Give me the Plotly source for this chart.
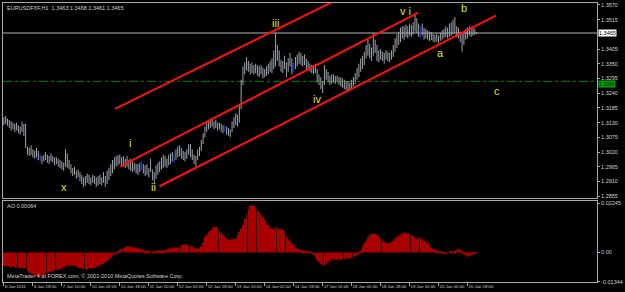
import plotly.graph_objects as go

SYMBOL_HEADER = "EURUSDFXF,H1  1.3463 1.3468 1.3461 1.3465"
AO_HEADER = "AO 0.00064"
COPYRIGHT = "MetaTrader 4 at FOREX.com, \u00a9 2001-2010 MetaQuotes Software Corp."

LOW = [
    1.3120, 1.3125, 1.3118, 1.3110, 1.3100, 1.3105, 1.3095, 1.3100, 1.3090, 1.3085,
    1.3095, 1.3080, 1.3035, 1.3010, 1.3005, 1.3010, 1.3000, 1.2995, 1.3000, 1.2990,
    1.2985, 1.2975, 1.2985, 1.2990, 1.2980, 1.2975, 1.2985, 1.2980, 1.2970, 1.2975,
    1.2965, 1.2960, 1.2955, 1.2950, 1.2965, 1.2960, 1.2955, 1.2940, 1.2930, 1.2935,
    1.2920, 1.2925, 1.2910, 1.2900, 1.2888, 1.2895, 1.2905, 1.2900, 1.2895, 1.2905,
    1.2900, 1.2890, 1.2895, 1.2900, 1.2895, 1.2905, 1.2890, 1.2900, 1.2915, 1.2930,
    1.2940, 1.2955, 1.2965, 1.2970, 1.2975, 1.2970, 1.2965, 1.2960, 1.2965, 1.2955,
    1.2950, 1.2945, 1.2950, 1.2940, 1.2935, 1.2945, 1.2950, 1.2940, 1.2930, 1.2935,
    1.2925, 1.2945, 1.2915, 1.2900, 1.2920, 1.2935, 1.2945, 1.2955, 1.2960, 1.2965,
    1.2960, 1.2970, 1.2975, 1.2985, 1.2980, 1.2990, 1.3000, 1.3005, 1.2995, 1.2990,
    1.2985, 1.2995, 1.3010, 1.3000, 1.2990, 1.2975, 1.2965, 1.2990, 1.3005, 1.3025,
    1.3050, 1.3075, 1.3095, 1.3105, 1.3110, 1.3115, 1.3105, 1.3110, 1.3100, 1.3105,
    1.3095, 1.3090, 1.3095, 1.3085, 1.3080, 1.3075, 1.3095, 1.3110, 1.3120, 1.3115,
    1.3130, 1.3180, 1.3270, 1.3310, 1.3325, 1.3320, 1.3310, 1.3315, 1.3310, 1.3315,
    1.3305, 1.3300, 1.3310, 1.3295, 1.3300, 1.3305, 1.3310, 1.3320, 1.3315, 1.3330,
    1.3340, 1.3360, 1.3340, 1.3320, 1.3315, 1.3330, 1.3300, 1.3320, 1.3340, 1.3310,
    1.3320, 1.3330, 1.3340, 1.3350, 1.3345, 1.3340, 1.3345, 1.3330, 1.3325, 1.3320,
    1.3315, 1.3310, 1.3315, 1.3280, 1.3270, 1.3255, 1.3240, 1.3270, 1.3290, 1.3280,
    1.3270, 1.3275, 1.3280, 1.3275, 1.3280, 1.3270, 1.3265, 1.3260, 1.3255, 1.3250,
    1.3245, 1.3250, 1.3255, 1.3265, 1.3275, 1.3290, 1.3300, 1.3320, 1.3330, 1.3345,
    1.3370, 1.3380, 1.3370, 1.3360, 1.3380, 1.3390, 1.3360, 1.3355, 1.3365, 1.3360,
    1.3350, 1.3365, 1.3360, 1.3355, 1.3365, 1.3375, 1.3395, 1.3410, 1.3420, 1.3430,
    1.3445, 1.3440, 1.3450, 1.3445, 1.3455, 1.3450, 1.3460, 1.3470, 1.3465, 1.3450,
    1.3445, 1.3455, 1.3440, 1.3445, 1.3440, 1.3435, 1.3438, 1.3432, 1.3430, 1.3432,
    1.3427, 1.3435, 1.3440, 1.3445, 1.3450, 1.3445, 1.3450, 1.3455, 1.3460, 1.3465,
    1.3450, 1.3445, 1.3430, 1.3395, 1.3420, 1.3440, 1.3445, 1.3455, 1.3450, 1.3455,
    1.3458, 1.3461,
]

HIGH = [
    1.3150, 1.3155, 1.3145, 1.3140, 1.3135, 1.3130, 1.3125, 1.3130, 1.3120, 1.3115,
    1.3134, 1.3125, 1.3126, 1.3040, 1.3035, 1.3045, 1.3030, 1.3025, 1.3035, 1.3025,
    1.3015, 1.3005, 1.3010, 1.3020, 1.3010, 1.3005, 1.3015, 1.3005, 1.3000, 1.3000,
    1.2995, 1.2990, 1.2985, 1.2980, 1.3030, 1.3015, 1.2990, 1.2975, 1.2960, 1.2965,
    1.2950, 1.2955, 1.2945, 1.2935, 1.2925, 1.2930, 1.2940, 1.2935, 1.2925, 1.2935,
    1.2930, 1.2925, 1.2930, 1.2935, 1.2925, 1.2945, 1.2930, 1.2950, 1.2960, 1.2975,
    1.2990, 1.3000, 1.3005, 1.3010, 1.3010, 1.3000, 1.3005, 1.2995, 1.3005, 1.2990,
    1.2995, 1.2985, 1.2980, 1.2975, 1.2975, 1.2980, 1.2985, 1.2975, 1.2970, 1.2975,
    1.2960, 1.2995, 1.2955, 1.2945, 1.2970, 1.2980, 1.2985, 1.3000, 1.3010, 1.3005,
    1.2995, 1.3010, 1.3015, 1.3020, 1.3015, 1.3030, 1.3040, 1.3045, 1.3035, 1.3025,
    1.3020, 1.3030, 1.3050, 1.3050, 1.3030, 1.3010, 1.3005, 1.3030, 1.3040, 1.3065,
    1.3090, 1.3115, 1.3130, 1.3140, 1.3145, 1.3140, 1.3135, 1.3140, 1.3130, 1.3130,
    1.3125, 1.3120, 1.3120, 1.3115, 1.3110, 1.3105, 1.3135, 1.3150, 1.3165, 1.3160,
    1.3200, 1.3290, 1.3340, 1.3355, 1.3375, 1.3360, 1.3350, 1.3355, 1.3345, 1.3350,
    1.3345, 1.3340, 1.3345, 1.3335, 1.3330, 1.3340, 1.3350, 1.3360, 1.3370, 1.3400,
    1.3465, 1.3420, 1.3400, 1.3365, 1.3360, 1.3380, 1.3355, 1.3370, 1.3390, 1.3370,
    1.3355, 1.3375, 1.3385, 1.3395, 1.3390, 1.3380, 1.3385, 1.3370, 1.3360, 1.3350,
    1.3345, 1.3345, 1.3350, 1.3330, 1.3310, 1.3300, 1.3285, 1.3345, 1.3330, 1.3320,
    1.3305, 1.3310, 1.3310, 1.3305, 1.3305, 1.3300, 1.3300, 1.3295, 1.3290, 1.3285,
    1.3285, 1.3280, 1.3290, 1.3300, 1.3315, 1.3335, 1.3350, 1.3370, 1.3380, 1.3395,
    1.3420, 1.3440, 1.3425, 1.3410, 1.3465, 1.3440, 1.3420, 1.3400, 1.3405, 1.3395,
    1.3390, 1.3400, 1.3395, 1.3390, 1.3400, 1.3420, 1.3445, 1.3460, 1.3470, 1.3485,
    1.3490, 1.3490, 1.3495, 1.3490, 1.3500, 1.3495, 1.3505, 1.3532, 1.3520, 1.3500,
    1.3490, 1.3500, 1.3485, 1.3480, 1.3475, 1.3470, 1.3468, 1.3462, 1.3458, 1.3462,
    1.3455, 1.3465, 1.3475, 1.3480, 1.3490, 1.3485, 1.3500, 1.3505, 1.3515, 1.3525,
    1.3490, 1.3485, 1.3470, 1.3462, 1.3470, 1.3480, 1.3485, 1.3490, 1.3485, 1.3490,
    1.3480, 1.3468,
]

BLUE_BARS = [20, 76, 94, 122, 160, 230]

AO = [
    -0.0063, -0.0063, -0.0059, -0.0063, -0.0068, -0.0063,
    -0.0068, -0.0068, -0.0072, -0.0072, -0.0068, -0.0072, -0.0072,
    -0.0081, -0.0090, -0.0095, -0.0099, -0.0104,
    -0.0108, -0.0108, -0.0108, -0.0104, -0.0104, -0.0099, -0.0095,
    -0.0090, -0.0086, -0.0086, -0.0081, -0.0081, -0.0077, -0.0077, -0.0072, -0.0068, -0.0063,
    -0.0059, -0.0059, -0.0059, -0.0059, -0.0063, -0.0063, -0.0068,
    -0.0072, -0.0072, -0.0077, -0.0077, -0.0077, -0.0072, -0.0072, -0.0072, -0.0068, -0.0068, -0.0063,
    -0.0059, -0.0054, -0.0050, -0.0045, -0.0041, -0.0032, -0.0023, -0.0018, -0.0014,
    -0.0005, 0.0005,
    0.0014, 0.0018, 0.0023, 0.0023, 0.0027, 0.0027, 0.0027, 0.0023, 0.0023, 0.0023, 0.0018, 0.0018,
    0.0014, 0.0014, 0.0009, 0.0009, 0.0009, 0.0005, 0.0005, 0.0005, 0.0005, 0.0009, 0.0009, 0.0009, 0.0009, 0.0009, 0.0014,
    0.0018, 0.0018, 0.0023, 0.0023, 0.0023, 0.0023, 0.0027,
    0.0032, 0.0036, 0.0036, 0.0036, 0.0032, 0.0032, 0.0027, 0.0023, 0.0018,
    0.0018, 0.0018, 0.0027, 0.0045,
    0.0072, 0.0081, 0.0090, 0.0099,
    0.0108, 0.0117, 0.0117, 0.0113,
    0.0099, 0.0090, 0.0081, 0.0072, 0.0063, 0.0059,
    0.0059, 0.0059, 0.0063, 0.0063,
    0.0077, 0.0095, 0.0108, 0.0126,
    0.0153, 0.0176, 0.0198, 0.0212,
    0.0216, 0.0212,
    0.0203, 0.0194, 0.0185, 0.0171, 0.0158, 0.0149, 0.0135, 0.0126,
    0.0113, 0.0108, 0.0108,
    0.0117, 0.0113, 0.0108, 0.0108, 0.0104,
    0.0090, 0.0077, 0.0063, 0.0054, 0.0041, 0.0032, 0.0023, 0.0018,
    0.0014, 0.0014, 0.0009, 0.0009, 0.0009, 0.0005, 0.0005,
    -0.0005, -0.0014, -0.0023, -0.0036, -0.0045, -0.0054, -0.0059, -0.0063,
    -0.0054, -0.0045, -0.0036, -0.0032, -0.0032, -0.0032, -0.0032,
    -0.0032, -0.0032, -0.0032, -0.0032, -0.0027, -0.0027, -0.0027, -0.0023, -0.0023, -0.0018, -0.0014,
    -0.0005, 0.0009,
    0.0027, 0.0041, 0.0054, 0.0068, 0.0081,
    0.0086, 0.0086, 0.0086, 0.0081,
    0.0072, 0.0063, 0.0059, 0.0050, 0.0045, 0.0041,
    0.0045, 0.0050, 0.0054, 0.0063,
    0.0072, 0.0077, 0.0081, 0.0086, 0.0090, 0.0090,
    0.0086, 0.0086, 0.0081, 0.0077, 0.0068,
    0.0063, 0.0068, 0.0068, 0.0063, 0.0054,
    0.0050, 0.0041, 0.0032, 0.0023,
    0.0018, 0.0014, 0.0009, 0.0005,
    0.0005, 0.0001, -0.0005, -0.0005, -0.0001, 0.0001, 0.0005, 0.0005, 0.0009,
    0.0014, 0.0014, 0.0014, 0.0009,
    -0.0009, -0.0014, -0.0018, -0.0018, -0.0014,
    -0.0009, -0.0005, 0.00064,
]

TIME_TICK_BARS = [0, 16, 32, 48, 64, 80, 96, 112, 128, 144, 160, 176, 192, 208, 224, 240, 256]
TIME_TICK_TEXT = ["6 Jan 2011", "6 Jan 18:00", "7 Jan 10:00", "10 Jan 02:00", "10 Jan 18:00",
                  "11 Jan 10:00", "12 Jan 02:00", "12 Jan 18:00", "13 Jan 10:00", "14 Jan 02:00",
                  "14 Jan 18:00", "17 Jan 10:00", "18 Jan 02:00", "18 Jan 18:00", "19 Jan 10:00",
                  "20 Jan 02:00", "20 Jan 18:00"]

PRICE_TICKS = [1.3570, 1.3515, 1.3405, 1.3350, 1.3295, 1.3240, 1.3185,
               1.3130, 1.3075, 1.3020, 1.2965, 1.2910, 1.2855]
AO_TICKS = [0.02245, 0.0, -0.01344]
AO_TICK_TEXT = ["0.02245", "0.00", "-0.01344"]

BID = 1.3465
LEVEL = 1.3284

CHANNEL_BARS = [[61.4, 182.6], [64.1, 228.8], [85.9, 271.7]]
CHANNEL_PRICES = [[1.3181, 1.3585], [1.2965, 1.3541], [1.2892, 1.3530]]

WAVE_TEXT = ["x", "i", "ii", "iii", "iv", "v i", "a", "b", "c"]
WAVE_BAR = [33.2, 69.6, 82.6, 150.0, 172.8, 221.7, 241.3, 253.8, 272.3]
WAVE_PRICE = [1.2888, 1.3053, 1.2888, 1.3504, 1.3218, 1.3548, 1.3390, 1.3559, 1.3247]

assert len(LOW) == len(HIGH) == len(AO)
N = len(LOW)

FONT = "Liberation Sans"
TXT = "#d0d0d0"
FRAME = "#a8a8a8"

fig = go.Figure()


def bar_segments(indices):
    xs, ys = [], []
    for i in indices:
        xs += [i, i, None]
        ys += [LOW[i], HIGH[i], None]
    return xs, ys


gx, gy = bar_segments([i for i in range(N) if i not in BLUE_BARS])
fig.add_trace(go.Scatter(x=gx, y=gy, mode="lines", line=dict(color="#9ca4ac", width=1),
                         xaxis="x2", yaxis="y", hoverinfo="skip"))
bx, by = bar_segments(BLUE_BARS)
fig.add_trace(go.Scatter(x=bx, y=by, mode="lines", line=dict(color="#2040ff", width=1),
                         xaxis="x2", yaxis="y", hoverinfo="skip"))

for cx, cy in zip(CHANNEL_BARS, CHANNEL_PRICES):
    fig.add_trace(go.Scatter(x=cx, y=cy, mode="lines", line=dict(color="#ff1010", width=2),
                             xaxis="x2", yaxis="y", hoverinfo="skip"))

fig.add_trace(go.Bar(x=list(range(N)), y=AO, width=0.4,
                     marker=dict(color="#a80000", line=dict(width=0)),
                     xaxis="x", yaxis="y2", hoverinfo="skip"))

annotations = []
for t, bx_, py in zip(WAVE_TEXT, WAVE_BAR, WAVE_PRICE):
    annotations.append(dict(x=bx_, y=py, xref="x2", yref="y", text=t, showarrow=False,
                            font=dict(family=FONT, size=11, color="#e6e600")))
annotations += [
    dict(x=0.004, y=1, xref="paper", yref="paper", xanchor="left", yanchor="top", text=SYMBOL_HEADER,
         showarrow=False, font=dict(family=FONT, size=5.5, color=TXT)),
    dict(x=0.004, y=1, xref="paper", yref="y2 domain", xanchor="left", yanchor="top", text=AO_HEADER,
         showarrow=False, font=dict(family=FONT, size=5.5, color=TXT)),
    dict(x=0.004, y=0.01, xref="paper", yref="y2 domain", xanchor="left", yanchor="bottom", text=COPYRIGHT,
         showarrow=False, font=dict(family=FONT, size=5.5, color=TXT)),
    dict(x=1, y=BID, xref="paper", yref="y", xanchor="left", yanchor="middle", xshift=1, text=f"{BID:.4f}",
         showarrow=False, bgcolor="#ffffff", borderpad=0, font=dict(family=FONT, size=5.5, color="#000000")),
    dict(x=1, y=LEVEL, xref="paper", yref="y", xanchor="left", yanchor="middle", xshift=1, yshift=-3,
         text=f"{LEVEL:.4f}", showarrow=False, bgcolor="#00a000", borderpad=0,
         font=dict(family=FONT, size=5, color="#002000")),
]

shapes = [
    dict(type="line", xref="x2 domain", x0=0, x1=1, yref="y", y0=BID, y1=BID,
         line=dict(color="#5a5a5a", width=2), layer="below"),
    dict(type="line", xref="x2 domain", x0=0, x1=1, yref="y", y0=LEVEL, y1=LEVEL,
         line=dict(color="#008000", width=1, dash="dashdot"), layer="below"),
]

axis_common = dict(showgrid=False, zeroline=False, showline=True, linecolor=FRAME, linewidth=1, mirror=True)

fig.update_layout(
    width=625, height=292,
    margin=dict(l=2, r=19, t=2, b=10),
    paper_bgcolor="black", plot_bgcolor="black",
    showlegend=False, barmode="overlay",
    annotations=annotations, shapes=shapes,
    xaxis=dict(domain=[0, 1], anchor="y2", range=[-0.5, 327.5],
               tickmode="array", tickvals=TIME_TICK_BARS, ticktext=TIME_TICK_TEXT, tickangle=0,
               ticklabelposition="outside right", ticks="outside", ticklen=3, tickcolor=FRAME,
               tickfont=dict(family=FONT, size=4.3, color=TXT), **axis_common),
    xaxis2=dict(domain=[0, 1], anchor="y", matches="x", showticklabels=False, ticks="", **axis_common),
    yaxis=dict(domain=[0.3, 1], anchor="x2", side="right", range=[1.2847, 1.3577],
               tickmode="array", tickvals=PRICE_TICKS, ticktext=[f"{v:.4f}" for v in PRICE_TICKS],
               ticks="outside", ticklen=2, tickcolor=FRAME,
               tickfont=dict(family=FONT, size=5.5, color=TXT), **axis_common),
    yaxis2=dict(domain=[0, 0.289], anchor="x", side="right", range=[-0.01344, 0.0233],
                tickmode="array", tickvals=AO_TICKS, ticktext=AO_TICK_TEXT,
                ticks="outside", ticklen=2, tickcolor=FRAME,
                tickfont=dict(family=FONT, size=5.5, color=TXT), **axis_common),
)

fig.write_html("out.html", config={"displayModeBar": False})
